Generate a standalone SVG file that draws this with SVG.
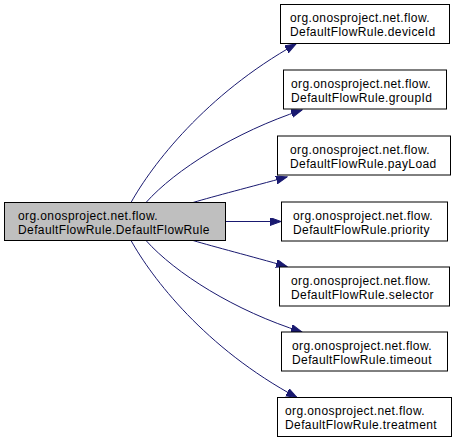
<svg xmlns="http://www.w3.org/2000/svg" width="459" height="443" viewBox="0 0 459 443">
<defs>
<style>
.node rect{fill:#ffffff;stroke:#000000;stroke-width:1}
.node.main rect{fill:#bfbfbf}
.node text{font-family:"Liberation Sans",Arial,sans-serif;font-size:12px;letter-spacing:0.4px;fill:#000000}
.edges path{fill:none;stroke:#191970;stroke-width:1}
</style>
<marker id="arr" markerUnits="userSpaceOnUse" markerWidth="12" markerHeight="9" refX="11" refY="4" orient="auto">
<path d="M0,0 L11,4 L0,8 z" fill="#191970" stroke="#191970" stroke-width="1"/>
</marker>
</defs>
<rect width="459" height="443" fill="#ffffff"/>
<g id="edges" class="edges">
<path d="M131,202.5 C152,165 205,95 296,44" marker-end="url(#arr)"/>
<path d="M146,202.5 C175,170 235,132 302,110" marker-end="url(#arr)"/>
<path d="M193,202.5 C215,196 250,187 287,177" marker-end="url(#arr)"/>
<path d="M225.5,221.5 L281,221.5" marker-end="url(#arr)"/>
<path d="M193,240.5 C215,247 250,256 287,266.5" marker-end="url(#arr)"/>
<path d="M146,240.5 C175,273 235,311 302,332" marker-end="url(#arr)"/>
<path d="M131,240.5 C152,278 205,348 297,397.5" marker-end="url(#arr)"/>
</g>
<g id="node-main" class="node main">
<rect x="4.5" y="202.5" width="221" height="38"/>
<text x="18" y="219.5">org.onosproject.net.flow.</text>
<text x="18" y="233.5">DefaultFlowRule.DefaultFlowRule</text>
</g>
<g id="node-deviceId" class="node">
<rect x="280.5" y="4.5" width="169" height="39"/>
<text x="290" y="22">org.onosproject.net.flow.</text>
<text x="290" y="36">DefaultFlowRule.deviceId</text>
</g>
<g id="node-groupId" class="node">
<rect x="283.5" y="70" width="163" height="39"/>
<text x="291" y="87.5">org.onosproject.net.flow.</text>
<text x="291" y="101.5">DefaultFlowRule.groupId</text>
</g>
<g id="node-payLoad" class="node">
<rect x="277.5" y="136" width="173" height="39"/>
<text x="290" y="153.5">org.onosproject.net.flow.</text>
<text x="290" y="167.5">DefaultFlowRule.payLoad</text>
</g>
<g id="node-priority" class="node">
<rect x="281.5" y="202" width="166" height="39"/>
<text x="293" y="219.5">org.onosproject.net.flow.</text>
<text x="293" y="233.5">DefaultFlowRule.priority</text>
</g>
<g id="node-selector" class="node">
<rect x="279.5" y="267" width="170" height="39"/>
<text x="291" y="284.5">org.onosproject.net.flow.</text>
<text x="291" y="298.5">DefaultFlowRule.selector</text>
</g>
<g id="node-timeout" class="node">
<rect x="281.5" y="332" width="166" height="39"/>
<text x="292" y="349.5">org.onosproject.net.flow.</text>
<text x="292" y="363.5">DefaultFlowRule.timeout</text>
</g>
<g id="node-treatment" class="node">
<rect x="277.5" y="397.5" width="174" height="39"/>
<text x="285" y="415">org.onosproject.net.flow.</text>
<text x="285" y="429">DefaultFlowRule.treatment</text>
</g>
</svg>
